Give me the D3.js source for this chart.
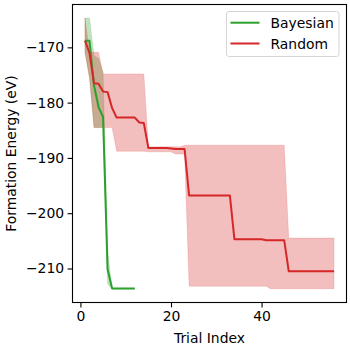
<!DOCTYPE html>
<html>
<head>
<meta charset="utf-8">
<script src="https://cdn.jsdelivr.net/npm/d3@7/dist/d3.min.js"></script>
<style>
  html, body { margin: 0; padding: 0; background: #fff; }
  svg { display: block; }
  text { font-family: "DejaVu Sans", sans-serif; }
</style>
</head>
<body>
<svg id="chart" width="350" height="350"></svg>
<script>
// ---- data ----
const seriesNames = ["Bayesian", "Random"];
const seriesColors = ["#2ca02c", "#d62728"];

const bayesTrials = [1,2,3,4,5,6,7,8,9,10,11,12];
const bayesMean  = [-168.8,-168.8,-176.9,-180.8,-182.6,-210.2,-213.6,-213.6,-213.6,-213.6,-213.6,-213.6];
const bayesUpper = [-164.7,-164.7,-171.5,-172.0,-174.5,-207.0,-213.6,-213.6,-213.6,-213.6,-213.6,-213.6];
const bayesLower = [-170.9,-175.5,-184.5,-184.5,-184.5,-212.8,-213.7,-213.7,-213.7,-213.7,-213.7,-213.7];

const randomTrials = [1,2,3,4,5,6,7,8,9,10,11,12,13,14,15,16,17,18,19,20,21,22,23,24,25,26,27,28,
  29,30,31,32,33,34,35,36,37,38,39,40,41,42,43,44,45,46,47,48,49,50,51,52,53,54,55,56];
const randomMean = [-168.8,-171.0,-176.5,-176.6,-178.0,-178.1,-181.0,-182.7,-182.7,-182.7,-182.7,-182.7,
  -183.6,-183.7,-188.2,-188.2,-188.2,-188.2,-188.2,-188.3,-188.4,-188.4,-188.4,
  -196.8,-196.8,-196.8,-196.8,-196.8,-196.8,-196.8,-196.8,-196.8,-196.8,
  -204.7,-204.7,-204.7,-204.7,-204.7,-204.7,-204.7,
  -204.9,-204.9,-204.9,-204.9,-204.9,
  -210.5,-210.5,-210.5,-210.5,-210.5,-210.5,-210.5,-210.5,-210.5,-210.5,-210.5];
const randomUpper = [-164.7,-170.9,-170.9,-170.9,
  -174.8,-174.8,-174.8,-174.8,-174.8,-174.8,-174.8,-174.8,-174.8,-174.8,
  -188.0,-188.0,-188.0,-188.0,-188.0,-188.0,-188.0,-188.0,
  -187.7,-187.7,-187.7,-187.7,-187.7,-187.7,-187.7,-187.7,-187.7,-187.7,-187.7,-187.7,
  -187.7,-187.7,-187.7,-187.7,-187.7,-187.7,-187.7,-187.7,-187.7,-187.7,-187.7,
  -204.5,-204.5,-204.5,-204.5,-204.5,-204.5,-204.5,-204.5,-204.5,-204.5,-204.5];
const randomLower = [-170.9,-175.5,
  -184.5,-184.5,-184.5,-184.5,-184.5,
  -188.8,-188.8,-188.8,-188.8,-188.8,-188.8,-188.8,
  -188.9,-188.9,-188.9,-188.9,-188.9,-188.9,
  -189.3,-189.3,-189.3,
  -213.2,-213.2,-213.2,-213.2,-213.2,-213.2,-213.2,-213.2,-213.2,-213.2,-213.2,-213.2,
  -213.2,-213.2,-213.2,-213.2,-213.2,-213.2,
  -213.65,-213.65,-213.65,-213.65,-213.65,-213.65,-213.65,-213.65,-213.65,-213.65,
  -213.65,-213.65,-213.65,-213.65,-213.65];

const xTicks = [0, 20, 40];
const yTicks = [-210, -200, -190, -180, -170];
const xLabel = "Trial Index";
const yLabel = "Formation Energy (eV)";

// ---- layout ----
const svg = d3.select("#chart");
const L = 72.5, R = 346.5, T = 4.5, B = 302.5;
const fs = 13.9;

const series = [
  {name: seriesNames[0], color: seriesColors[0], x: bayesTrials, m: bayesMean, u: bayesUpper, l: bayesLower},
  {name: seriesNames[1], color: seriesColors[1], x: randomTrials, m: randomMean, u: randomUpper, l: randomLower}
];

const allX = bayesTrials.concat(randomTrials);
const allY = [].concat(bayesMean, bayesUpper, bayesLower, randomMean, randomUpper, randomLower);
const xe = d3.extent(allX), ye = d3.extent(allY);
const xm = (xe[1]-xe[0])*0.05, ym = (ye[1]-ye[0])*0.05;

const x = d3.scaleLinear().domain([xe[0]-xm, xe[1]+xm]).range([L, R]);
const y = d3.scaleLinear().domain([ye[0]-ym, ye[1]+ym]).range([B, T]);

const g = svg.append("g");

// bands
series.forEach(s => {
  const pts = s.x.map((t,i) => ({t, u: s.u[i], l: s.l[i]}));
  g.append("path")
    .datum(pts)
    .attr("d", d3.area().x(d => x(d.t)).y0(d => y(d.l)).y1(d => y(d.u)))
    .attr("fill", s.color)
    .attr("fill-opacity", 0.3)
    .attr("stroke", s.color)
    .attr("stroke-opacity", 0.15)
    .attr("stroke-width", 1);
});
// lines
series.forEach(s => {
  const pts = s.x.map((t,i) => ({t, v: s.m[i]}));
  g.append("path")
    .datum(pts)
    .attr("d", d3.line().x(d => x(d.t)).y(d => y(d.v)))
    .attr("fill", "none")
    .attr("stroke", s.color)
    .attr("stroke-width", 2)
    .attr("stroke-linejoin", "round");
});

// axes
const xAxis = d3.axisBottom(x).tickValues(xTicks).tickSize(4.9).tickPadding(3.5).tickFormat(d3.format("d"));
const yAxis = d3.axisLeft(y).tickValues(yTicks).tickSize(4.9).tickPadding(3.5)
  .tickFormat(d => (d < 0 ? "\u2212" + Math.abs(d) : String(d)));

const gx = svg.append("g").attr("transform", `translate(0,${B})`).call(xAxis);
const gy = svg.append("g").attr("transform", `translate(${L},0)`).call(yAxis);
[gx, gy].forEach(a => {
  a.select(".domain").remove();
  a.selectAll(".tick line").attr("stroke", "#000").attr("stroke-width", 1.1);
  a.selectAll(".tick text").attr("fill", "#000").style("font-size", fs + "px").style("font-family", "DejaVu Sans");
});

// spines
svg.append("rect").attr("x", L).attr("y", T).attr("width", R-L).attr("height", B-T)
  .attr("fill", "none").attr("stroke", "#000").attr("stroke-width", 1.1);

// axis labels
svg.append("text").attr("x", (L+R)/2).attr("y", 342.5).attr("text-anchor", "middle")
  .style("font-size", fs + "px").text(xLabel);
svg.append("text").attr("transform", `translate(15.5,${(T+B)/2}) rotate(-90)`).attr("text-anchor", "middle")
  .style("font-size", fs + "px").text(yLabel);

// legend
const lg = svg.append("g");
lg.append("rect").attr("x", 226.5).attr("y", 11.5).attr("width", 112.5).attr("height", 45).attr("rx", 2.5)
  .attr("fill", "#fff").attr("fill-opacity", 0.8).attr("stroke", "#d6d6d6").attr("stroke-width", 1);
series.forEach((s, i) => {
  const yy = 22.7 + i * 20.8;
  lg.append("line").attr("x1", 230.5).attr("x2", 259.5).attr("y1", yy).attr("y2", yy)
    .attr("stroke", s.color).attr("stroke-width", 2);
  lg.append("text").attr("x", 270.5).attr("y", yy + 5).style("font-size", fs + "px").text(s.name);
});
</script>
</body>
</html>
